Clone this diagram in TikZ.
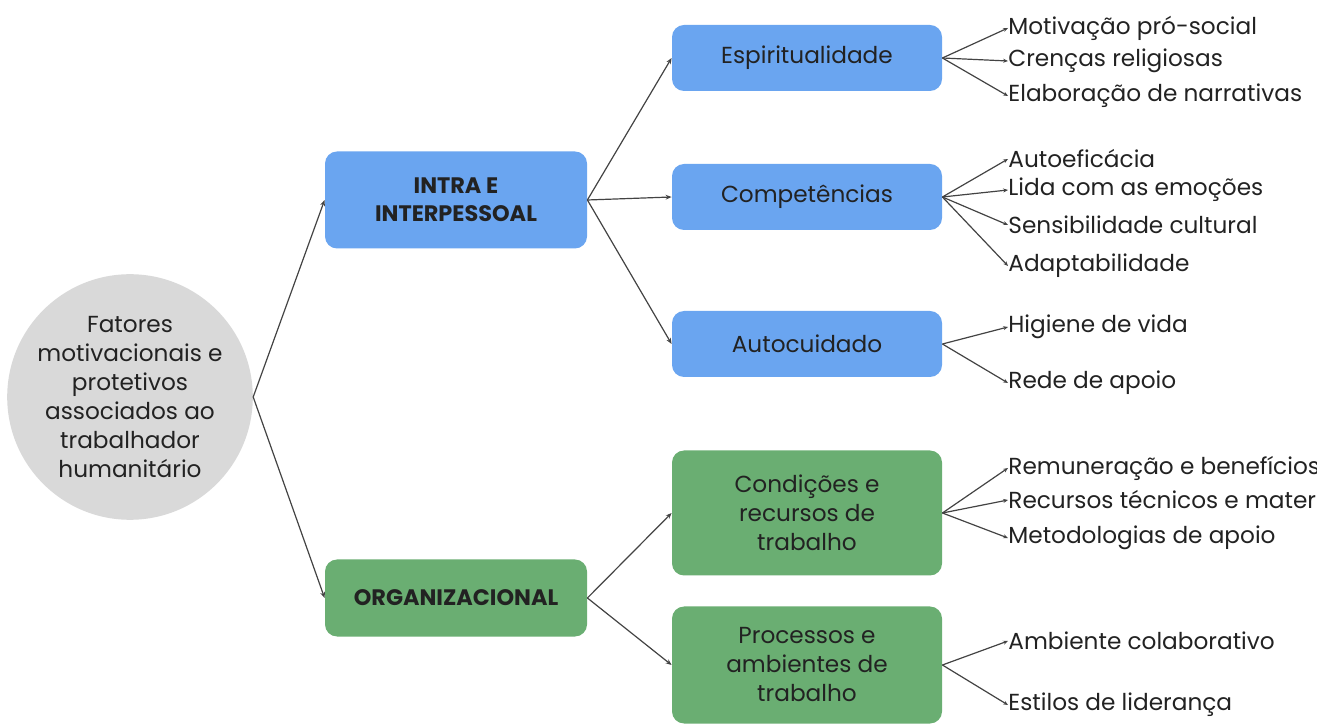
\documentclass[tikz,border=0pt]{standalone}
\usepackage{fontspec}
\setmainfont{Poppins}
\usetikzlibrary{arrows.meta}

\definecolor{boxblue}{HTML}{6AA5F0}
\definecolor{boxgreen}{HTML}{6AAE72}
\definecolor{rootgray}{HTML}{D9D9D9}
\definecolor{ink}{HTML}{222222}

\tikzset{
    txt/.style={font=\fontsize{11.6}{14.5}\selectfont, text=ink, align=center},
    rootnode/.style={txt, circle, fill=rootgray, minimum size=120pt, inner sep=0pt},
    mainbox/.style={txt, font=\fontsize{11.2}{14}\selectfont\bfseries, rounded corners=6pt, minimum width=131pt, inner sep=0pt},
    subbox/.style={txt, rounded corners=6pt, minimum width=135pt, inner sep=0pt},
    leaf/.style={txt, anchor=west, inner sep=0pt},
    link/.style={draw=ink!85, line width=0.6pt, -{Stealth[length=3pt,width=2.4pt]}},
    twig/.style={draw=ink!85, line width=0.6pt, -{Stealth[length=2.4pt,width=2pt]}}
}

\begin{document}
\begin{tikzpicture}[x=0.5pt, y=-0.5pt]
    \clip (0,0) rectangle (1317,726);
    \useasboundingbox (0,0) rectangle (1317,726);

    % root
    \node[rootnode] (root) at (130,397) {Fatores\\motivacionais e\\protetivos\\associados ao\\trabalhador\\humanitário};

    % first level
    \node[mainbox, fill=boxblue, minimum height=48.5pt] (intra) at (456,200) {INTRA E\\INTERPESSOAL};
    \node[mainbox, fill=boxgreen, minimum height=38.5pt] (org) at (456,598) {ORGANIZACIONAL};

    % second level
    \node[subbox, fill=boxblue, minimum height=33pt] (espi) at (807,58) {Espiritualidade};
    \node[subbox, fill=boxblue, minimum height=33pt] (comp) at (807,197) {Competências};
    \node[subbox, fill=boxblue, minimum height=33pt] (auto) at (807,344) {Autocuidado};
    \node[subbox, fill=boxgreen, minimum height=62.5pt] (cond) at (807,513) {Condições e\\recursos de\\trabalho};
    \node[subbox, fill=boxgreen, minimum height=58.5pt] (proc) at (807,665) {Processos e\\ambientes de\\trabalho};

    \draw[link] (root.east) -- (intra.west);
    \draw[link] (root.east) -- (org.west);
    \foreach \s in {espi,comp,auto}
        \draw[link] (intra.east) -- (\s.west);
    \foreach \s in {cond,proc}
        \draw[link] (org.east) -- (\s.west);

    % leaves
    \foreach \n/\y/\t/\p in {
        e1/28/Motivação pró-social/espi,
        e2/61/Crenças religiosas/espi,
        e3/96/Elaboração de narrativas/espi,
        c1/159/Autoeficácia/comp,
        c2/190/Lida com as emoções/comp,
        c3/225/Sensibilidade cultural/comp,
        c4/266/Adaptabilidade/comp,
        a1/327/Higiene de vida/auto,
        a2/383/Rede de apoio/auto,
        r1/468/Remuneração e benefícios/cond,
        r2/500/Recursos técnicos e materiais/cond,
        r3/538/Metodologias de apoio/cond,
        p1/641/Ambiente colaborativo/proc,
        p2/705/Estilos de liderança/proc}
    {
        \node[leaf] (\n) at (1008,\y) {\t};
        \draw[twig] (\p.east) -- (\n.west);
    }
\end{tikzpicture}
\end{document}
